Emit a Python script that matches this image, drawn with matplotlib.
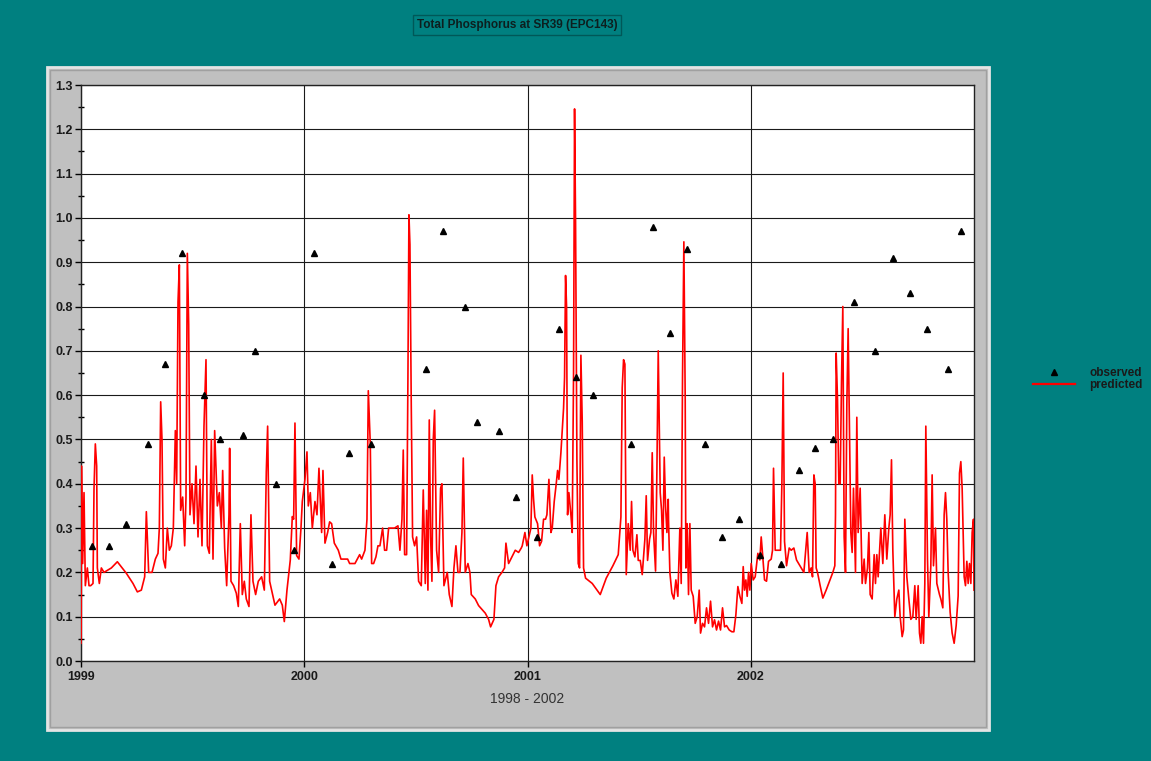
import matplotlib
matplotlib.use("Agg")
import matplotlib.pyplot as plt
from matplotlib.patches import Rectangle
from matplotlib.lines import Line2D
from matplotlib.ticker import MultipleLocator

plt.rcParams['font.family'] = ['Liberation Sans', 'DejaVu Sans']

# years since 1 Jan 1999 -> predicted total phosphorus
pred_t = [
    0.000, 0.0008, 0.002, 0.0075, 0.0135, 0.0194, 0.0284, 0.0359, 0.0433, 0.0538,
    0.0583, 0.0642, 0.0702, 0.0732, 0.0821, 0.0911, 0.1030, 0.1359, 0.1628, 0.2031,
    0.2329, 0.2524, 0.2703, 0.2852, 0.2927, 0.3031, 0.3181, 0.3330, 0.3449, 0.3509,
    0.3569, 0.3628, 0.3688, 0.3778, 0.3867, 0.3957, 0.4046, 0.4136, 0.4226, 0.4285,
    0.4345, 0.4405, 0.4464, 0.4554, 0.4644, 0.4703, 0.4763, 0.4823, 0.4882, 0.4972,
    0.5062, 0.5151, 0.5241, 0.5330, 0.5420, 0.5509, 0.5599, 0.5659, 0.5748, 0.5838,
    0.5913, 0.5987, 0.6107, 0.6196, 0.6286, 0.6346, 0.6435, 0.6525,
    0.6628, 0.6658, 0.6718, 0.6837, 0.6957, 0.7046, 0.7136, 0.7225, 0.7315, 0.7404,
    0.7524, 0.7613, 0.7703, 0.7822, 0.7942, 0.8091, 0.8211, 0.8300, 0.8360, 0.8450,
    0.8539, 0.8688, 0.8898, 0.9017, 0.9107, 0.9226, 0.9375, 0.9465, 0.9525, 0.9584,
    0.9659, 0.9763, 0.9853, 0.9913, 1.0032, 1.0122, 1.0181, 1.0271, 1.0361, 1.0480,
    1.0570, 1.0659, 1.0779, 1.0838, 1.0928, 1.1047, 1.1137, 1.1226, 1.1346, 1.1525,
    1.1644, 1.1943, 1.2033, 1.2271, 1.2481, 1.2570, 1.2719, 1.2809, 1.2869, 1.2958,
    1.3018, 1.3107,
    1.3211, 1.3301, 1.3390, 1.3510, 1.3599, 1.3689, 1.3779, 1.3898, 1.4047, 1.4197,
    1.4286, 1.4376, 1.4435, 1.4495, 1.4585, 1.4644, 1.4689, 1.4734, 1.4794, 1.4853,
    1.4943, 1.5033, 1.5122, 1.5241, 1.5331, 1.5421, 1.5480, 1.5540, 1.5600, 1.5660,
    1.5719, 1.5779, 1.5839, 1.5928, 1.6018, 1.6107, 1.6167, 1.6257, 1.6406, 1.6496,
    1.6615, 1.6705, 1.6794, 1.6884, 1.6974, 1.7063, 1.7123, 1.7212, 1.7332, 1.7421,
    1.7481, 1.7660, 1.7810, 1.8108, 1.8257, 1.8347, 1.8496, 1.8586, 1.8705, 1.8855,
    1.8974, 1.9034, 1.9153, 1.9303, 1.9452, 1.9601, 1.9721,
    1.9764, 1.9884, 1.9973, 2.0063, 2.0152, 2.0212, 2.0272, 2.0331, 2.0451, 2.0541,
    2.0630, 2.0720, 2.0809, 2.0869, 2.0959, 2.1048, 2.1108, 2.1197, 2.1287, 2.1347,
    2.1406, 2.1496, 2.1556, 2.1615, 2.1660, 2.1705, 2.1750, 2.1795, 2.1854, 2.1944,
    2.2003, 2.2063, 2.2108, 2.2153, 2.2213, 2.2272, 2.2332, 2.2392, 2.2452, 2.2511,
    2.2601, 2.2900, 2.3258, 2.3527, 2.3825, 2.4064, 2.4184, 2.4243, 2.4303, 2.4363,
    2.4423, 2.4512, 2.4602, 2.4661, 2.4721, 2.4811, 2.4900, 2.4960, 2.5050, 2.5139,
    2.5258, 2.5318, 2.5378, 2.5468, 2.5527, 2.5587, 2.5647, 2.5736, 2.5796, 2.5856,
    2.5886, 2.5945, 2.6005, 2.6065, 2.6125, 2.6184, 2.6244, 2.6304,
    2.6317, 2.6377, 2.6467, 2.6556, 2.6646, 2.6735, 2.6825, 2.6885, 2.6944, 2.7004,
    2.7064, 2.7094, 2.7153, 2.7213, 2.7273, 2.7333, 2.7422, 2.7512, 2.7601, 2.7691,
    2.7751, 2.7840, 2.7930, 2.8019, 2.8109, 2.8199, 2.8288, 2.8378, 2.8467, 2.8557,
    2.8646, 2.8736, 2.8826, 2.8915, 2.9035, 2.9154, 2.9244, 2.9333, 2.9423, 2.9513,
    2.9602, 2.9662, 2.9721, 2.9781, 2.9841, 2.9900, 2.9960, 3.0020, 3.0109, 3.0199,
    3.0318, 3.0408, 3.0468, 3.0527, 3.0617, 3.0707, 3.0796, 3.0916, 3.0975, 3.1020,
    3.1095, 3.1185, 3.1334, 3.1394, 3.1453, 3.1513, 3.1603, 3.1722, 3.1812, 3.1931,
    3.2050, 3.2229, 3.2379, 3.2528, 3.2618, 3.2707, 3.2767, 3.2827, 3.2886,
    3.2930, 3.2990, 3.3109, 3.3229, 3.3378, 3.3527, 3.3677, 3.3766, 3.3796, 3.3826,
    3.3886, 3.3945, 3.4005, 3.4065, 3.4124, 3.4184, 3.4244, 3.4304, 3.4363, 3.4423,
    3.4483, 3.4542, 3.4602, 3.4692, 3.4751, 3.4811, 3.4901, 3.4990, 3.5080, 3.5140,
    3.5229, 3.5289, 3.5349, 3.5438, 3.5528, 3.5587, 3.5647, 3.5707, 3.5826, 3.5916,
    3.6005, 3.6095, 3.6185, 3.6244, 3.6304, 3.6364, 3.6453, 3.6543, 3.6633, 3.6692,
    3.6782, 3.6842, 3.6901, 3.6991, 3.7081, 3.7170, 3.7260, 3.7349, 3.7409, 3.7499,
    3.7558, 3.7618, 3.7678, 3.7738, 3.7797, 3.7842, 3.7917, 3.7976, 3.8066, 3.8125,
    3.8185, 3.8275, 3.8335, 3.8454, 3.8514, 3.8603, 3.8663, 3.8723, 3.8782, 3.8842,
    3.8932, 3.9021, 3.9111, 3.9201, 3.9290, 3.9350, 3.9410, 3.9469, 3.9559, 3.9619,
    3.9679, 3.9738, 3.9798, 3.9858, 3.9917, 3.9977, 4.0000,
]
pred_v = [
    0.04, 0.07, 0.44, 0.22, 0.38, 0.17, 0.21, 0.17, 0.17, 0.175,
    0.39, 0.49, 0.44, 0.21, 0.175, 0.21, 0.20, 0.21, 0.224, 0.198,
    0.175, 0.156, 0.16, 0.19, 0.337, 0.20, 0.20, 0.23, 0.243, 0.30,
    0.585, 0.50, 0.23, 0.21, 0.30, 0.25, 0.26, 0.30, 0.52, 0.40,
    0.81, 0.894, 0.34, 0.37, 0.26, 0.37, 0.92, 0.76, 0.33, 0.40,
    0.31, 0.44, 0.28, 0.41, 0.26, 0.53, 0.68, 0.26, 0.243, 0.50,
    0.23, 0.52, 0.35, 0.38, 0.30, 0.43, 0.255, 0.17,
    0.33, 0.48, 0.18, 0.17, 0.153, 0.123, 0.31, 0.15, 0.18, 0.14,
    0.123, 0.33, 0.18, 0.15, 0.18, 0.19, 0.16, 0.427, 0.53, 0.18,
    0.16, 0.126, 0.14, 0.126, 0.089, 0.16, 0.228, 0.326, 0.32, 0.537,
    0.238, 0.23, 0.30, 0.36, 0.41, 0.472, 0.35, 0.38, 0.30, 0.36,
    0.33, 0.435, 0.29, 0.43, 0.266, 0.29, 0.314, 0.31, 0.266, 0.25,
    0.23, 0.23, 0.22, 0.22, 0.24, 0.23, 0.25, 0.32, 0.61, 0.49,
    0.22, 0.22,
    0.235, 0.26, 0.26, 0.30, 0.25, 0.25, 0.30, 0.30, 0.30, 0.305,
    0.25, 0.32, 0.476, 0.24, 0.24, 0.64, 1.007, 0.94, 0.574, 0.28,
    0.26, 0.28, 0.18, 0.17, 0.386, 0.175, 0.34, 0.16, 0.544, 0.28,
    0.18, 0.50, 0.566, 0.25, 0.20, 0.39, 0.40, 0.17, 0.20, 0.15,
    0.123, 0.21, 0.26, 0.20, 0.20, 0.29, 0.458, 0.20, 0.22, 0.20,
    0.15, 0.14, 0.125, 0.108, 0.094, 0.077, 0.094, 0.17, 0.19, 0.20,
    0.21, 0.266, 0.22, 0.235, 0.25, 0.245, 0.255,
    0.26, 0.29, 0.26, 0.28, 0.30, 0.42, 0.365, 0.325, 0.31, 0.26,
    0.27, 0.32, 0.32, 0.33, 0.41, 0.29, 0.30, 0.36, 0.40, 0.43,
    0.41, 0.47, 0.52, 0.57, 0.64, 0.87, 0.80, 0.33, 0.38, 0.33,
    0.29, 0.65, 1.246, 0.99, 0.455, 0.22, 0.21, 0.69, 0.54, 0.21,
    0.187, 0.175, 0.15, 0.187, 0.215, 0.24, 0.325, 0.617, 0.68, 0.67,
    0.195, 0.31, 0.25, 0.36, 0.25, 0.235, 0.285, 0.227, 0.227, 0.195,
    0.275, 0.373, 0.227, 0.275, 0.29, 0.47, 0.29, 0.203, 0.43, 0.70,
    0.59, 0.38, 0.34, 0.25, 0.46, 0.35, 0.29, 0.365,
    0.318, 0.20, 0.153, 0.14, 0.183, 0.146, 0.30, 0.175, 0.64, 0.946,
    0.59, 0.21, 0.31, 0.15, 0.31, 0.16, 0.146, 0.085, 0.10, 0.16,
    0.063, 0.085, 0.077, 0.12, 0.085, 0.135, 0.077, 0.093, 0.07, 0.09,
    0.07, 0.12, 0.077, 0.08, 0.07, 0.066, 0.066, 0.104, 0.168, 0.146,
    0.13, 0.213, 0.16, 0.183, 0.146, 0.20, 0.16, 0.22, 0.183, 0.19,
    0.243, 0.228, 0.28, 0.243, 0.183, 0.18, 0.225, 0.23, 0.25, 0.435,
    0.25, 0.25, 0.25, 0.40, 0.65, 0.27, 0.215, 0.255, 0.25, 0.255,
    0.228, 0.213, 0.20, 0.29, 0.20, 0.21, 0.19, 0.42, 0.40,
    0.21, 0.20, 0.17, 0.142, 0.16, 0.18, 0.20, 0.215, 0.33, 0.695,
    0.59, 0.40, 0.40, 0.63, 0.80, 0.28, 0.20, 0.58, 0.75, 0.52,
    0.29, 0.245, 0.39, 0.20, 0.55, 0.29, 0.39, 0.175, 0.23, 0.175,
    0.21, 0.29, 0.15, 0.14, 0.24, 0.175, 0.24, 0.19, 0.30, 0.22,
    0.33, 0.23, 0.30, 0.33, 0.454, 0.25, 0.10, 0.14, 0.16, 0.10,
    0.055, 0.07, 0.32, 0.19, 0.14, 0.094, 0.10, 0.17, 0.094, 0.17,
    0.063, 0.04, 0.10, 0.04, 0.175, 0.53, 0.23, 0.10, 0.215, 0.42,
    0.215, 0.30, 0.175, 0.15, 0.14, 0.12, 0.33, 0.38, 0.32, 0.20,
    0.11, 0.063, 0.04, 0.08, 0.147, 0.424, 0.45, 0.39, 0.19, 0.17,
    0.225, 0.175, 0.22, 0.175, 0.29, 0.32, 0.16,
]

# observed samples
obs_t = [
    0.0493, 0.1254, 0.2015, 0.3000, 0.3762, 0.4523, 0.5495, 0.6240, 0.7255, 0.7777,
    0.8747, 0.9539, 1.0450, 1.1225, 1.2002, 1.2987, 1.5450, 1.6211, 1.7183, 1.7750,
    1.8719, 1.9495, 2.0421, 2.1406, 2.2181, 2.2942, 2.4643, 2.5616, 2.6377, 2.7153,
    2.7930, 2.8706, 2.9467, 3.0408, 3.1363, 3.2140, 3.2871, 3.3677, 3.4617, 3.5574,
    3.6350, 3.7125, 3.7886, 3.8827, 3.9440,
]
obs_v = [
    0.26, 0.26, 0.31, 0.49, 0.67, 0.92, 0.60, 0.50, 0.51, 0.70,
    0.40, 0.25, 0.92, 0.22, 0.47, 0.49, 0.66, 0.97, 0.80, 0.54,
    0.52, 0.37, 0.28, 0.75, 0.64, 0.60, 0.49, 0.98, 0.74, 0.93,
    0.49, 0.28, 0.32, 0.24, 0.22, 0.43, 0.48, 0.50, 0.81, 0.70,
    0.91, 0.83, 0.75, 0.66, 0.97,
]

start_year = 1999
year_ticks = [1999, 2000, 2001, 2002]

W, H = 1151, 761
fig = plt.figure(figsize=(W / 100, H / 100), dpi=100, facecolor='#008080')

# grey panel with bevel, drawn behind the axes
fig.patches.append(Rectangle((47 / W, 1 - 730 / H), 942 / W, 663 / H, transform=fig.transFigure,
                             facecolor='#c0c0c0', edgecolor='#e4e4e4', lw=2, zorder=-5))
fig.patches.append(Rectangle((50 / W, 1 - 727 / H), 936 / W, 657 / H, transform=fig.transFigure,
                             facecolor='none', edgecolor='#a0a0a0', lw=1, zorder=-4))

ax = fig.add_axes([81 / W, 1 - 661 / H, 893 / W, 576 / H])
ax.set_zorder(2)
ax.set_facecolor('white')

x_pred = [start_year + t for t in pred_t]
x_obs = [start_year + t for t in obs_t]

ax.plot(x_pred, pred_v, color='#ff0000', lw=1.2, zorder=3, label='predicted')
ax.plot(x_obs, obs_v, linestyle='none', marker='^', color='black', markersize=5,
        zorder=4, label='observed')

ax.set_xlim(1999, 2003)
ax.set_ylim(0, 1.3)
ax.set_xticks(year_ticks)
ax.set_xticklabels([str(y) for y in year_ticks])
ax.yaxis.set_minor_locator(MultipleLocator(0.05))
ax.set_yticks([i / 10 for i in range(14)])
ax.set_yticklabels([f'{i / 10:.1f}' for i in range(14)])
ax.grid(True, which='major', color='#1a1a1a', lw=0.8)
ax.set_axisbelow(True)

for lbl in ax.get_xticklabels() + ax.get_yticklabels():
    lbl.set_fontweight('bold')
    lbl.set_fontsize(9)
    lbl.set_color('#1a1a1a')
ax.tick_params(axis='y', which='major', length=4, width=1, pad=2)
ax.tick_params(axis='y', which='minor', length=4, width=1, direction='inout')
ax.tick_params(axis='x', which='major', length=4, width=1, pad=3)
for s in ax.spines.values():
    s.set_color('#222222')
    s.set_linewidth(1)

ax.set_xlabel('1998 - 2002', fontsize=10, color='#333333', labelpad=7)

fig.text(517 / W, 1 - 25 / H, 'Total Phosphorus at SR39 (EPC143)', ha='center', va='center',
         fontsize=8.5, fontweight='bold', color='#0d1f1f',
         bbox=dict(boxstyle='square,pad=0.3', facecolor='#008080', edgecolor='#005858', lw=1))

handles = [
    Line2D([], [], linestyle='none', marker='^', color='black', markersize=5),
    Line2D([], [], color='#ff0000', lw=1.6),
]
leg = fig.legend(handles, ['observed', 'predicted'], loc='center left',
                 bbox_to_anchor=(1022 / W, 1 - 379 / H), frameon=False,
                 handlelength=3.6, handletextpad=1.2, labelspacing=0.05,
                 prop={'weight': 'bold', 'size': 8.5})
for t in leg.get_texts():
    t.set_color('#1a1a1a')

fig.savefig('out.png', dpi=100, facecolor=fig.get_facecolor())
